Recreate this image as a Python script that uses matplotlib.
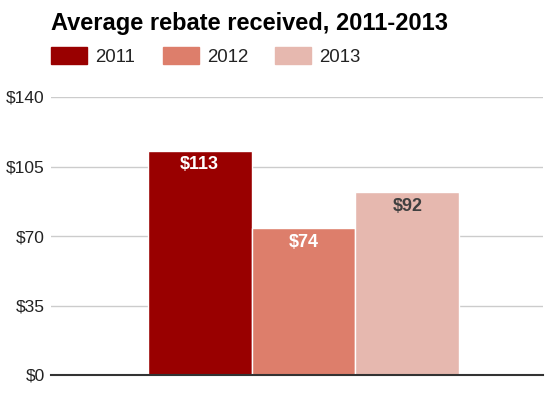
import matplotlib
matplotlib.use("Agg")
import matplotlib.pyplot as plt
from matplotlib.patches import Rectangle

plt.rcParams['font.family'] = ['Liberation Sans', 'DejaVu Sans']

# data
years = ['2011', '2012', '2013']
rebates = [113, 74, 92]
colors = ['#990000', '#dd7e6b', '#e6b8af']
label_colors = ['white', 'white', '#404040']
yticks = [0, 35, 70, 105, 140]

W, H = 552, 398
fig = plt.figure(figsize=(W / 100, H / 100), dpi=100)
ax = fig.add_axes([51 / W, (H - 375) / H, (543 - 51) / W, (375 - 97) / H])

x = list(range(len(years)))
ax.bar(x, rebates, width=1.0, color=colors, edgecolor='white', linewidth=1, zorder=2)
for xi, v, lc in zip(x, rebates, label_colors):
    ax.text(xi, v - 2.8, f'${v}', ha='center', va='top', color=lc,
            fontsize=13, fontweight='bold', zorder=3)

ax.set_xlim(-1.428, 3.303)
ax.set_ylim(0, 140)
ax.set_yticks(yticks)
ax.set_yticklabels([f'${t}' for t in yticks], fontsize=12.5, color='#222222')
ax.set_xticks([])
ax.grid(axis='y', color='#cccccc', linewidth=1, zorder=0)
for s in ['top', 'right', 'left']:
    ax.spines[s].set_visible(False)
ax.spines['bottom'].set_color('#333333')
ax.spines['bottom'].set_linewidth(1.5)
ax.spines['bottom'].set_zorder(4)
ax.tick_params(axis='y', length=0, pad=4.5)

# title
fig.text(51 / W, 1 - 30 / H, 'Average rebate received, 2011-2013', fontsize=17,
         fontweight='bold', ha='left', va='baseline', color='black')

# legend
legend_x = [51, 163, 275]
for lx, yr, c in zip(legend_x, years, colors):
    fig.patches.append(Rectangle((lx / W, 1 - 64 / H), 36 / W, 17 / H,
                                 transform=fig.transFigure, color=c))
    fig.text((lx + 44) / W, 1 - 62 / H, yr, fontsize=13.4, color='#222222',
             ha='left', va='baseline')

fig.savefig('out.png', dpi=100)
